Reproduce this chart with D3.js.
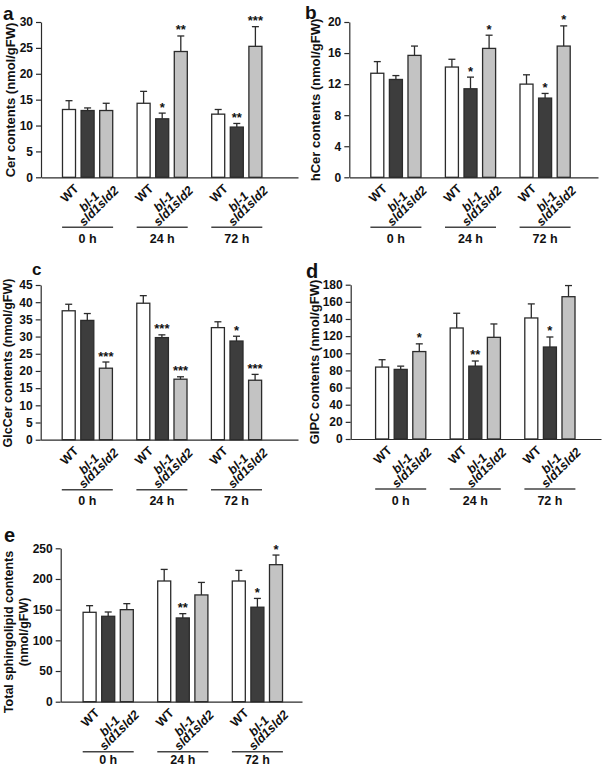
<!DOCTYPE html>
<html><head><meta charset="utf-8">
<script src="https://cdn.jsdelivr.net/npm/d3@7"></script>
<style>
html,body{margin:0;padding:0;background:#fff;}
svg{display:block;font-family:"Liberation Sans",Arial,sans-serif;}
</style></head>
<body>
<svg id="chart" width="602" height="765"></svg>
<script>
// ---- data ----
const groups = ["0 h", "24 h", "72 h"];
const genotypes = ["WT", "bl-1", "sld1sld2"];

// values listed group by group: [WT, bl-1, sld1sld2] for 0 h, 24 h, 72 h
const cerMean = [13.1, 12.9, 12.9, 14.3, 11.3, 24.3, 12.2, 9.7, 25.3];
const cerErr  = [1.7, 0.5, 1.4, 2.3, 1.1, 3.0, 0.9, 0.7, 3.8];
const cerSig  = ["", "", "", "", "*", "**", "", "**", "***"];
const cerTicks = [0, 5, 10, 15, 20, 25, 30];

const hcerMean = [13.4, 12.6, 15.7, 14.2, 11.4, 16.6, 12.0, 10.2, 16.9];
const hcerErr  = [1.5, 0.5, 1.2, 1.0, 1.5, 1.7, 1.2, 0.6, 2.6];
const hcerSig  = ["", "", "", "", "*", "*", "", "*", "*"];
const hcerTicks = [0, 4, 8, 12, 16, 20];

const glcMean = [37.5, 34.7, 20.8, 39.7, 29.7, 17.6, 32.6, 28.7, 17.3];
const glcErr  = [1.9, 2.0, 1.8, 2.2, 0.8, 0.7, 1.7, 1.4, 1.7];
const glcSig  = ["", "", "***", "", "***", "***", "", "*", "***"];
const glcTicks = [0, 5, 10, 15, 20, 25, 30, 35, 40, 45];

const gipcMean = [83.9, 81.2, 102, 129.5, 85, 118.6, 141.2, 107.3, 166];
const gipcErr  = [8.6, 3.8, 9, 17.2, 6, 15.6, 16.4, 11.7, 13];
const gipcSig  = ["", "", "*", "", "**", "", "", "*", ""];
const gipcTicks = [0, 20, 40, 60, 80, 100, 120, 140, 160, 180];

const totMean = [145.7, 139.2, 150, 196.7, 136.5, 174, 196.7, 154, 223.3];
const totErr  = [10.8, 7, 9.8, 18.9, 7, 20.4, 17.3, 14.3, 15.7];
const totSig  = ["", "", "", "", "**", "", "", "*", "*"];
const totTicks = [0, 50, 100, 150, 200, 250];

const panelLetters = ["a", "b", "c", "d", "e"];
const yTitles = [
  ["Cer contents (nmol/gFW)"],
  ["hCer contents (nmol/gFW)"],
  ["GlcCer contents (nmol/gFW)"],
  ["GIPC contents (nmol/gFW)"],
  ["Total sphingolipid contents", "(nmol/gFW)"]
];

// ---- styling / layout ----
const fills = {"WT": "#ffffff", "bl-1": "#3d3d3d", "sld1sld2": "#c3c3c3"};
const ink = "#2b2b2b";
const GROUP_STEP = 74.6, BAR_STEP = 18.6;
// per-label anchor offsets (rotated labels)
const lblOff = {"WT": [10.5, 12], "bl-1": [12.3, 19.5], "sld1sld2": [13.2, 14]};

const layouts = [
  {ax: 41, y0: 177.3, yTop: 22, xEnd: 298, off: 46.6, lx: 3, ly: 20, lfs: 19, tx: [14.5], tmid: 100, tfs: 13},
  {ax: 349.3, y0: 177.3, yTop: 22, xEnd: 598, off: 46.6, lx: 305, ly: 18.5, lfs: 19, tx: [320], tmid: 100, tfs: 13},
  {ax: 40.7, y0: 439.7, yTop: 285, xEnd: 298, off: 46.6, lx: 32, ly: 275, lfs: 17, tx: [11.5], tmid: 363, tfs: 12.5},
  {ax: 350.7, y0: 439, yTop: 284.7, xEnd: 601, off: 50, lx: 306, ly: 278, lfs: 20, tx: [319], tmid: 362, tfs: 13},
  {ax: 60.7, y0: 701.7, yTop: 548.3, xEnd: 302, off: 47.5, lx: 4, ly: 542, lfs: 20, tx: [13, 28], tmid: 632, tfs: 12.5}
];

const panelData = [
  {mean: cerMean, err: cerErr, sig: cerSig, ticks: cerTicks},
  {mean: hcerMean, err: hcerErr, sig: hcerSig, ticks: hcerTicks},
  {mean: glcMean, err: glcErr, sig: glcSig, ticks: glcTicks},
  {mean: gipcMean, err: gipcErr, sig: gipcSig, ticks: gipcTicks},
  {mean: totMean, err: totErr, sig: totSig, ticks: totTicks}
];

const svg = d3.select("#chart");

panelData.forEach((pd, pi) => {
  const L = layouts[pi];
  const g = svg.append("g");
  const tmax = pd.ticks[pd.ticks.length - 1];
  const y = d3.scaleLinear().domain([0, tmax]).range([L.y0, L.yTop]);

  const start = L.ax + L.off - GROUP_STEP / 2;
  const xg = d3.scaleBand().domain(groups).range([start, start + GROUP_STEP * groups.length]).paddingInner(0).paddingOuter(0);
  const xs = d3.scaleBand().domain(genotypes)
    .range([-1.5 * BAR_STEP, 1.5 * BAR_STEP])
    .paddingInner(0.3).paddingOuter(0.15);

  const rows = [];
  groups.forEach((gr, gi) => genotypes.forEach((ge, si) => {
    const k = gi * genotypes.length + si;
    rows.push({group: gr, geno: ge, mean: pd.mean[k], err: pd.err[k], sig: pd.sig[k]});
  }));
  const cx = d => xg(d.group) + xg.bandwidth() / 2 + xs(d.geno) + xs.bandwidth() / 2;

  // bars
  g.selectAll("rect.bar").data(rows).join("rect")
    .attr("x", d => xg(d.group) + xg.bandwidth() / 2 + xs(d.geno))
    .attr("y", d => y(d.mean))
    .attr("width", xs.bandwidth())
    .attr("height", d => y(0) - y(d.mean))
    .attr("fill", d => fills[d.geno])
    .attr("stroke", ink).attr("stroke-width", 1.3);

  // error bars (upper only)
  g.selectAll("line.eb").data(rows).join("line")
    .attr("x1", cx).attr("x2", cx)
    .attr("y1", d => y(d.mean)).attr("y2", d => y(d.mean + d.err))
    .attr("stroke", ink).attr("stroke-width", 1.3);
  g.selectAll("line.cap").data(rows).join("line")
    .attr("x1", d => cx(d) - 3.5).attr("x2", d => cx(d) + 3.5)
    .attr("y1", d => y(d.mean + d.err)).attr("y2", d => y(d.mean + d.err))
    .attr("stroke", ink).attr("stroke-width", 1.3);

  // significance stars
  g.selectAll("text.sig").data(rows.filter(d => d.sig)).join("text")
    .attr("x", cx).attr("y", d => y(d.mean + d.err) - 1.5)
    .attr("text-anchor", "middle")
    .attr("font-size", 13).attr("font-weight", "bold").attr("fill", "#111")
    .text(d => d.sig);

  // y axis
  const yAxis = g.append("g").attr("transform", `translate(${L.ax},0)`)
    .call(d3.axisLeft(y).tickValues(pd.ticks).tickSize(5).tickSizeOuter(0).tickPadding(3));
  yAxis.attr("font-family", null).attr("font-size", null);
  yAxis.selectAll("text").attr("font-size", 12).attr("font-weight", "bold").attr("fill", "#111");
  yAxis.selectAll("line,path").attr("stroke", ink).attr("stroke-width", 1.2);

  // x baseline
  const xl = d3.scaleLinear().domain([0, 1]).range([L.ax, L.xEnd]);
  const xAxis = g.append("g").attr("transform", `translate(0,${L.y0})`)
    .call(d3.axisBottom(xl).tickValues([]).tickSizeOuter(0));
  xAxis.selectAll("path").attr("stroke", ink).attr("stroke-width", 1.2);

  // rotated category labels
  g.selectAll("text.cat").data(rows).join("text")
    .attr("transform", d => `translate(${cx(d) + lblOff[d.geno][0]},${L.y0 + lblOff[d.geno][1]}) rotate(-45)`)
    .attr("text-anchor", "end")
    .attr("font-size", 12.5).attr("font-weight", "bold")
    .attr("font-style", d => d.geno === "WT" ? "normal" : "italic")
    .attr("fill", "#111")
    .text(d => d.geno);

  // group lines and labels
  groups.forEach(gr => {
    const c = xg(gr) + xg.bandwidth() / 2;
    g.append("line")
      .attr("x1", c - 25.5).attr("x2", c + 25.5)
      .attr("y1", L.y0 + 50).attr("y2", L.y0 + 50)
      .attr("stroke", "#444").attr("stroke-width", 1.6);
    g.append("text")
      .attr("x", c).attr("y", Math.min(L.y0 + 65.5, 763.5))
      .attr("text-anchor", "middle")
      .attr("font-size", 12.5).attr("font-weight", "bold").attr("fill", "#111")
      .text(gr);
  });

  // y title
  yTitles[pi].forEach((t, ti) => {
    g.append("text")
      .attr("transform", `translate(${L.tx[ti]},${L.tmid}) rotate(-90)`)
      .attr("text-anchor", "middle")
      .attr("font-size", L.tfs).attr("font-weight", "bold").attr("fill", "#111")
      .text(t);
  });

  // panel letter
  g.append("text")
    .attr("x", L.lx).attr("y", L.ly)
    .attr("font-size", L.lfs).attr("font-weight", "bold").attr("fill", "#111")
    .text(panelLetters[pi]);
});
</script>
</body></html>
